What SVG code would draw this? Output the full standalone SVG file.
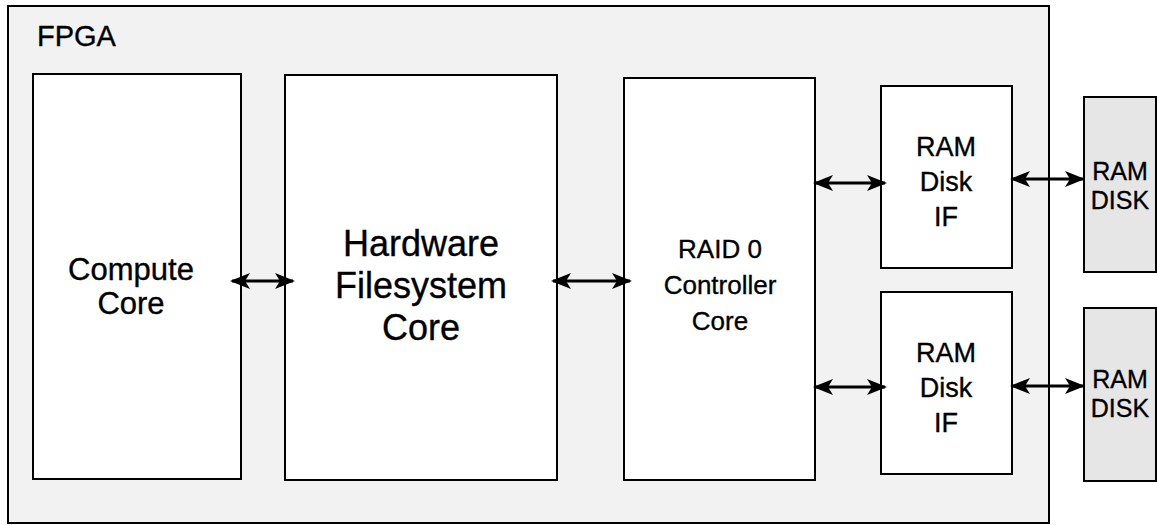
<svg xmlns="http://www.w3.org/2000/svg" width="1157" height="525" viewBox="0 0 1157 525">
  <style>
    .box { fill: #ffffff; stroke: #000000; stroke-width: 2; }
    .fpga { fill: #f2f2f2; stroke: #000000; stroke-width: 2; }
    .disk { fill: #e6e6e6; stroke: #000000; stroke-width: 2; }
    .lbl { font-family: "Liberation Sans", Arial, sans-serif; fill: #000000; stroke: #000000; stroke-width: 0.35; text-anchor: middle; }
    .link { stroke: #000000; stroke-width: 3; fill: none; marker-start: url(#head); marker-end: url(#head); }
  </style>
  <defs>
    <marker id="head" viewBox="0 0 20 16" refX="18" refY="8" markerWidth="20" markerHeight="16" markerUnits="userSpaceOnUse" orient="auto-start-reverse">
      <path d="M0,0 L20,8 L0,16 L5,8 Z" fill="#000000"/>
    </marker>
  </defs>

  <g id="fpga">
    <rect class="fpga" x="8" y="6" width="1041" height="517"/>
    <text class="lbl" x="37" y="46" font-size="29" style="text-anchor:start">FPGA</text>
  </g>

  <g id="compute-core">
    <rect class="box" x="33" y="74" width="208" height="405"/>
    <text class="lbl" font-size="31"><tspan x="131" y="280">Compute</tspan><tspan x="131" y="314">Core</tspan></text>
  </g>

  <g id="filesystem-core">
    <rect class="box" x="285" y="75" width="272" height="405"/>
    <text class="lbl" font-size="36"><tspan x="421" y="256">Hardware</tspan><tspan x="421" y="298">Filesystem</tspan><tspan x="421" y="340">Core</tspan></text>
  </g>

  <g id="raid-controller">
    <rect class="box" x="624" y="78" width="191" height="402"/>
    <text class="lbl" font-size="26"><tspan x="720" y="258">RAID 0</tspan><tspan x="720" y="294">Controller</tspan><tspan x="720" y="330">Core</tspan></text>
  </g>

  <g id="ramdisk-if-1">
    <rect class="box" x="881" y="86" width="131" height="182"/>
    <text class="lbl" font-size="27"><tspan x="946" y="156">RAM</tspan><tspan x="946" y="191">Disk</tspan><tspan x="946" y="226">IF</tspan></text>
  </g>

  <g id="ramdisk-if-2">
    <rect class="box" x="881" y="292" width="131" height="182"/>
    <text class="lbl" font-size="27"><tspan x="946" y="362">RAM</tspan><tspan x="946" y="397">Disk</tspan><tspan x="946" y="432">IF</tspan></text>
  </g>

  <g id="ramdisk-1">
    <rect class="disk" x="1084" y="97" width="72" height="175"/>
    <text class="lbl" font-size="25"><tspan x="1120" y="180">RAM</tspan><tspan x="1120" y="209">DISK</tspan></text>
  </g>

  <g id="ramdisk-2">
    <rect class="disk" x="1084" y="308" width="72" height="173"/>
    <text class="lbl" font-size="25"><tspan x="1120" y="388">RAM</tspan><tspan x="1120" y="417">DISK</tspan></text>
  </g>

  <g id="connectors">
    <line class="link" x1="232" y1="281" x2="293" y2="281"/>
    <line class="link" x1="553" y1="281" x2="630" y2="281"/>
    <line class="link" x1="815" y1="183" x2="885" y2="183"/>
    <line class="link" x1="1012" y1="179" x2="1083" y2="179"/>
    <line class="link" x1="815" y1="387" x2="885" y2="387"/>
    <line class="link" x1="1012" y1="386" x2="1083" y2="386"/>
  </g>
</svg>
